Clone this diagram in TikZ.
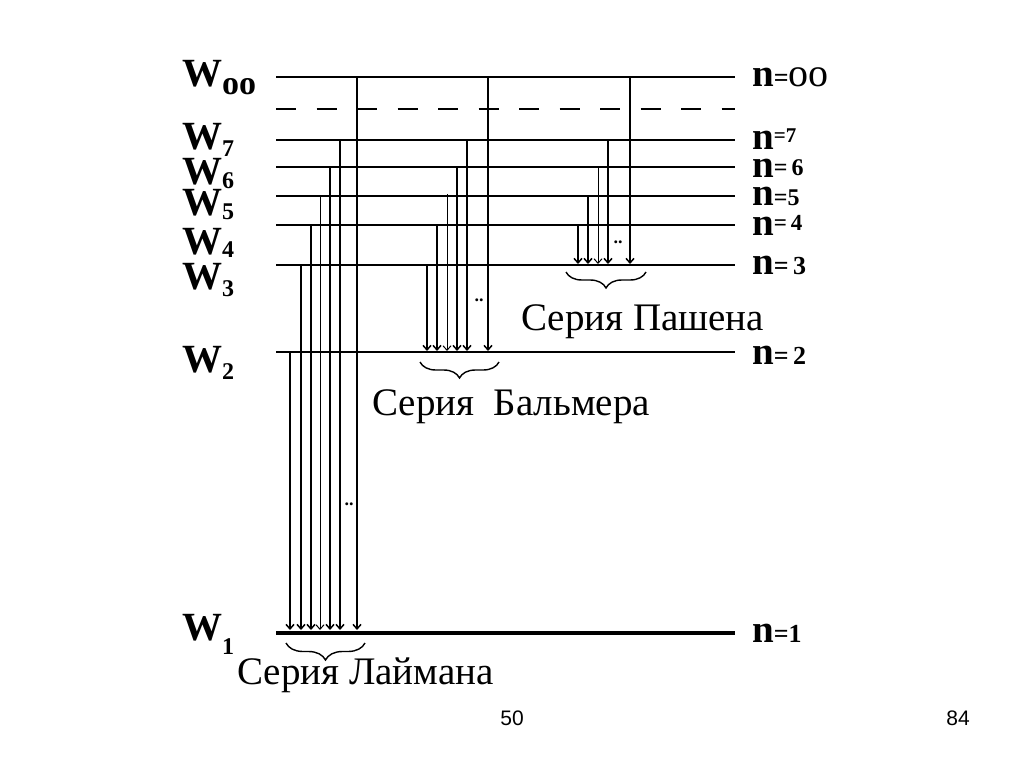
\documentclass[tikz,border=0pt]{standalone}
\usepackage{fontspec}
\setmainfont{Liberation Serif}
\newfontfamily\slidefont{Liberation Sans}
\usetikzlibrary{arrows.meta,decorations.pathreplacing}

\tikzset{
  level/.style={line width=1.8pt},
  groundlevel/.style={line width=4.5pt},
  transition/.style={line width=1.5pt,-{Straight Barb[length=4.5pt,width=8pt]}},
  thintr/.style={transition,line width=1pt},
  serbrace/.style={decorate,decoration={brace,mirror,amplitude=17pt},line width=1.4pt},
  serlabel/.style={anchor=base west,inner sep=0pt,font=\fontsize{39}{39}\selectfont},
  wlabel/.style={anchor=base west,inner sep=0pt},
  nlabel/.style={anchor=base west,inner sep=0pt},
  dots/.style={inner sep=0pt,font=\fontsize{18}{18}\selectfont\bfseries},
}
% W with a lowered index: #1 index, #2 drop
\newcommand{\Wlev}[2]{{\fontsize{40}{40}\selectfont\bfseries W}\raisebox{-#2pt}{\fontsize{24}{24}\selectfont\bfseries #1}}
% bold n, then "= k": #1 text, #2 raise, #3 size
\newcommand{\nlev}[3]{{\fontsize{39}{39}\selectfont\bfseries n}\raisebox{#2pt}{\fontsize{#3}{#3}\selectfont\bfseries #1}}

\begin{document}
\begin{tikzpicture}[x=1pt,y=-1pt]
  \useasboundingbox[fill=white] (0,0) rectangle (1024,767);

  % energy levels
  \foreach \n/\y in {inf/77,7/140,6/167,5/196,4/225,3/265,2/352}{
    \coordinate (l\n) at (276,\y);
    \coordinate (r\n) at (735,\y);
    \draw[level] (l\n) -- (r\n);
  }
  \coordinate (ldash) at (276,109);
  \coordinate (rdash) at (735,109);
  \draw[level,dash pattern=on 20pt off 20.5pt] (ldash) -- (rdash);
  \coordinate (l1) at (276,633);
  \coordinate (r1) at (735,633);
  \draw[groundlevel] (l1) -- (r1);

  % Lyman
  \foreach \x/\yt/\st [count=\i] in {290/352/transition,301/265/transition,311/225/transition,320/196/thintr,330/167/transition,340/140/transition,357/77/transition}{
    \coordinate (ly\i) at (\x,\yt);
    \coordinate (lye\i) at (\x,630);
    \draw[\st] (ly\i) -- (lye\i);
  }
  % Balmer
  \foreach \x/\yt/\st [count=\i] in {427/265/transition,437/225/transition,447/194/thintr,457/167/transition,467/140/transition,488/77/transition}{
    \coordinate (ba\i) at (\x,\yt);
    \coordinate (bae\i) at (\x,351);
    \draw[\st] (ba\i) -- (bae\i);
  }
  % Paschen
  \foreach \x/\yt/\st [count=\i] in {578/225/transition,588/196/transition,598/167/thintr,608/140/transition,630/77/transition}{
    \coordinate (pa\i) at (\x,\yt);
    \coordinate (pae\i) at (\x,264);
    \draw[\st] (pa\i) -- (pae\i);
  }

  \node[dots] (lydots) at (349,504) {..};
  \node[dots] (badots) at (479,300) {..};
  \node[dots] (padots) at (618,242) {..};

  % braces
  \coordinate (lyb1) at (286,643);
  \coordinate (lyb2) at (365,643);
  \draw[serbrace] (lyb1) -- (lyb2);
  \coordinate (bab1) at (420,362);
  \coordinate (bab2) at (499,362);
  \draw[serbrace,decoration={amplitude=16pt}] (bab1) -- (bab2);
  \coordinate (pab1) at (566,272);
  \coordinate (pab2) at (646,272);
  \draw[serbrace,decoration={amplitude=16pt}] (pab1) -- (pab2);

  \node[serlabel] (lyman) at (237,684) {Серия Лаймана};
  \node[serlabel] (balmer) at (372,415) {Серия\ \ Бальмера};
  \node[serlabel] (paschen) at (521,330) {Серия Пашена};

  % W labels
  \node[wlabel] (winf) at (182,87) {{\fontsize{40}{40}\selectfont\bfseries W}\raisebox{-8pt}{\fontsize{34}{34}\selectfont\bfseries oo}};
  \node[wlabel] (w7) at (182,150) {\Wlev{7}{7}};
  \node[wlabel] (w6) at (182,185) {\Wlev{6}{4}};
  \node[wlabel] (w5) at (182,216) {\Wlev{5}{3}};
  \node[wlabel] (w4) at (182,254) {\Wlev{4}{4}};
  \node[wlabel] (w3) at (182,289) {\Wlev{3}{7}};
  \node[wlabel] (w2) at (182,372) {\Wlev{2}{7}};
  \node[wlabel] (w1) at (182,640) {\Wlev{1}{14}};

  % n labels
  \node[nlabel] (ninf) at (752,87) {{\fontsize{39}{39}\selectfont\bfseries n}{\fontsize{26}{26}\selectfont\bfseries =}{\fontsize{40}{40}\selectfont oo}};
  \node[nlabel] (n7) at (752,150) {\nlev{=7}{7}{21}};
  \node[nlabel] (n6) at (752,178) {\nlev{=\,6}{2}{24}};
  \node[nlabel] (n5) at (752,206) {\nlev{=5}{0}{24}};
  \node[nlabel] (n4) at (752,236) {\nlev{=\,4}{5}{23}};
  \node[nlabel] (n3) at (752,274) {\nlev{=\,3}{0}{26}};
  \node[nlabel] (n2) at (752,364) {\nlev{=\,2}{0}{26}};
  \node[nlabel] (n1) at (752,642) {\nlev{=1}{0}{26}};

  \node[font=\slidefont\fontsize{21}{21}\selectfont] (pg1) at (512,718) {50};
  \node[font=\slidefont\fontsize{21}{21}\selectfont] (pg2) at (958,718) {84};
\end{tikzpicture}
\end{document}
